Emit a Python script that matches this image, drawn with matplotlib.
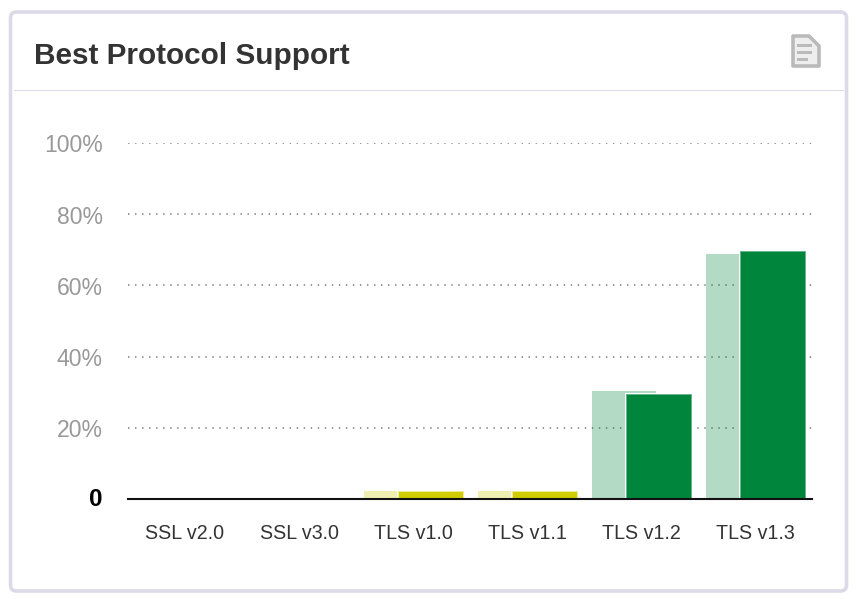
import matplotlib
matplotlib.use("Agg")
import matplotlib.pyplot as plt
from matplotlib.patches import FancyBboxPatch, Polygon, Rectangle
from matplotlib.lines import Line2D
from matplotlib.transforms import ScaledTranslation

W, H = 856, 599

protocols = ["SSL v2.0", "SSL v3.0", "TLS v1.0", "TLS v1.1", "TLS v1.2", "TLS v1.3"]
previous = [0, 0, 2.2, 2.2, 30.3, 68.8]
current = [0, 0, 2.2, 2.2, 29.5, 69.8]
bar_colors = ["#00853c", "#00853c", "#d0cd00", "#d0cd00", "#00853c", "#00853c"]
edge_colors = ["#66b68a", "#66b68a", "#eeeb99", "#eeeb99", "#66b68a", "#66b68a"]
y_ticks = [0, 20, 40, 60, 80, 100]
y_labels = ["0", "20%", "40%", "60%", "80%", "100%"]

plt.rcParams['font.family'] = ['Liberation Sans', 'DejaVu Sans']


def fx(px):
    return px / W


def fy(px):
    return 1 - px / H


def draw_card(fig):
    # panel border and header rule, in pixel coords of the figure
    bg = fig.add_axes([0, 0, 1, 1], zorder=0)
    bg.set_xlim(0, W)
    bg.set_ylim(H, 0)
    bg.axis('off')
    bg.add_patch(FancyBboxPatch((10.5, 12), 836, 579, boxstyle="round,pad=0,rounding_size=6",
                                facecolor="white", edgecolor="#dcdae8", linewidth=2.6))
    bg.add_line(Line2D([14, 843], [89.5, 89.5], color="#dddbe8", linewidth=0.8))
    bg.text(34, 55.5, "Best Protocol Support", fontsize=21.4, fontweight='bold',
            color="#333333", ha='left', va='center')
    # document icon
    bg.add_patch(Polygon([(793, 36), (809, 36), (819, 46), (819, 66), (793, 66)], closed=True,
                         facecolor="#eeeeee", edgecolor="#bababa", linewidth=2.6, joinstyle='round'))
    for y0, x1 in [(43.5, 812), (50.5, 812), (57.5, 808)]:
        bg.add_patch(Rectangle((797, y0), x1 - 797, 3, facecolor="#bababa", edgecolor='none'))


def draw_chart(fig):
    left, right, top, bottom = 128, 812, 143, 499
    ax = fig.add_axes([fx(left), fy(bottom), fx(right - left), (bottom - top) / H], zorder=1)
    ax.patch.set_alpha(0)
    ax.set_xlim(-0.5, 5.5)
    ax.set_ylim(0, 100)

    ax.yaxis.grid(True, color="#808080", linestyle=(0, (0.9, 3.5)), linewidth=1.15, zorder=1)
    ax.set_axisbelow(True)

    xs = list(range(len(protocols)))
    ax.bar([x - 0.149 for x in xs], previous, width=0.56, color=bar_colors, alpha=0.3,
           linewidth=0, zorder=2)
    # white backing gives the thin gap between the pair of bars
    ax.bar([x + 0.152 for x in xs], [v + 0.4 if v else 0 for v in current], width=0.59,
           color="white", linewidth=0, zorder=3)
    ax.bar([x + 0.152 for x in xs], current, width=0.565, color=bar_colors,
           edgecolor=edge_colors, linewidth=0.7, zorder=4)

    for side in ['top', 'right', 'left']:
        ax.spines[side].set_visible(False)
    ax.spines['bottom'].set_color("#111111")
    ax.spines['bottom'].set_linewidth(1.5)
    ax.spines['bottom'].set_zorder(5)

    ax.set_xticks(xs)
    ax.set_xticklabels(protocols, fontsize=14.1, color="#333333")
    ax.tick_params(axis='x', length=0, pad=18)
    ax.set_yticks(y_ticks)
    ax.set_yticklabels(y_labels, fontsize=16.6, color="#999999")
    ax.tick_params(axis='y', length=0, pad=18)

    down = ScaledTranslation(0, -0.5 / 100, fig.dpi_scale_trans)
    for lab in ax.get_yticklabels()[1:]:
        lab.set_transform(lab.get_transform() + down)
    zero = ax.get_yticklabels()[0]
    zero.set_color("black")
    zero.set_fontweight('bold')
    zero.set_fontsize(17.5)
    zero.set_transform(zero.get_transform() + ScaledTranslation(0, 2 / 100, fig.dpi_scale_trans))


fig = plt.figure(figsize=(W / 100, H / 100), dpi=100, facecolor="white")
draw_card(fig)
draw_chart(fig)
fig.savefig("out.png", dpi=100)
